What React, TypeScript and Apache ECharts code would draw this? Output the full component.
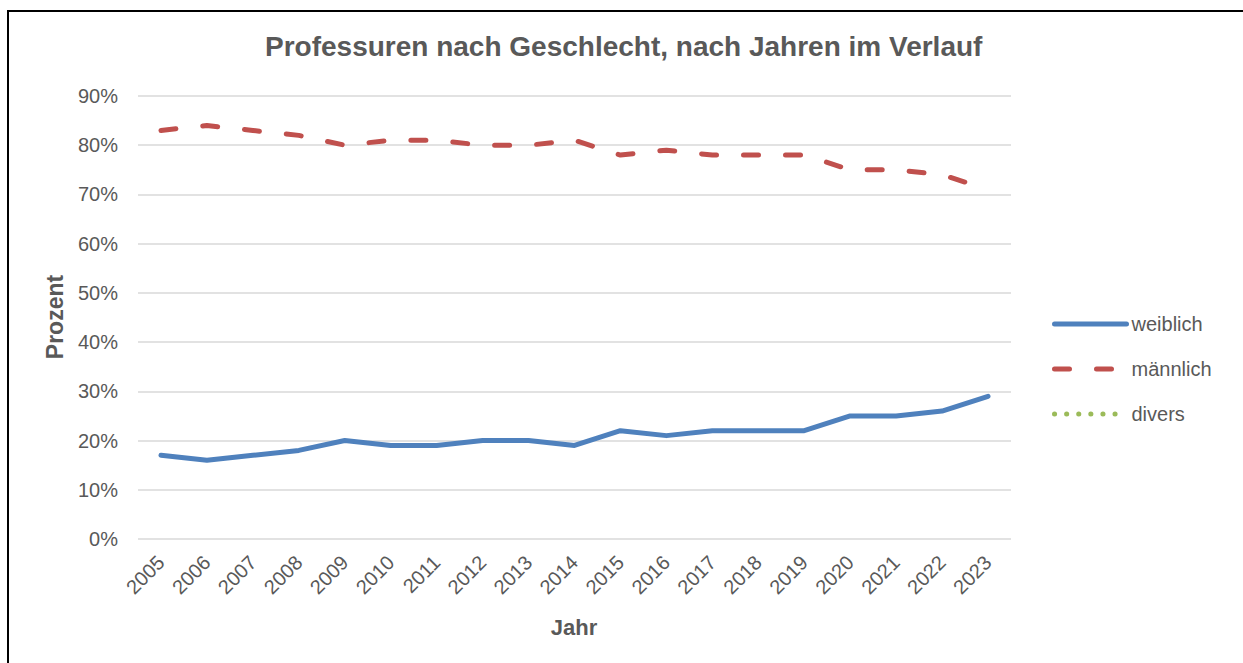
import React, { useEffect, useRef } from "react";
import * as echarts from "echarts";

const years = ["2005","2006","2007","2008","2009","2010","2011","2012","2013","2014","2015","2016","2017","2018","2019","2020","2021","2022","2023"];
const weiblich = [17,16,17,18,20,19,19,20,20,19,22,21,22,22,22,25,25,26,29];
const maennlich = [83,84,83,82,80,81,81,80,80,81,78,79,78,78,78,75,75,74,71];
const divers: (number | null)[] = years.map(() => null);

const FONT = "'Liberation Sans', Arial, sans-serif";
const GREY = "#595959";

export default function App() {
  const ref = useRef<HTMLDivElement>(null);
  useEffect(() => {
    if (!ref.current) return;
    const chart = echarts.init(ref.current, null, { renderer: "svg" });
    chart.setOption({
      animation: false,
      title: {
        text: "Professuren nach Geschlecht, nach Jahren im Verlauf",
        left: 260,
        top: 27,
        textStyle: { fontFamily: FONT, fontSize: 28, fontWeight: "bold", color: GREY },
      },
      grid: { left: 138, right: 232, top: 96, bottom: 124 },
      legend: {
        orient: "vertical",
        left: 1047,
        top: 309,
        itemWidth: 72,
        itemHeight: 14,
        itemGap: 25,
        itemStyle: { opacity: 0 },
        lineStyle: { width: 5, cap: "round" },
        textStyle: { fontFamily: FONT, fontSize: 20, color: GREY },
        data: ["weiblich", "männlich", "divers"],
      },
      xAxis: {
        type: "category",
        data: years,
        boundaryGap: true,
        axisLine: { show: false },
        axisTick: { show: false },
        axisLabel: { rotate: 45, margin: 20, fontFamily: FONT, fontSize: 20, color: GREY, interval: 0 },
      },
      yAxis: {
        type: "value",
        min: 0,
        max: 90,
        interval: 10,
        axisLabel: { formatter: "{value}%", margin: 20, fontFamily: FONT, fontSize: 20, color: GREY },
        splitLine: { lineStyle: { color: "#D9D9D9", width: 1.5 } },
        axisLine: { show: false },
        axisTick: { show: false },
      },
      graphic: [
        {
          type: "text",
          x: 574,
          y: 627,
          style: { text: "Jahr", fontFamily: FONT, fontSize: 22, fontWeight: "bold", fill: GREY, align: "center", verticalAlign: "middle" },
        },
        {
          type: "text",
          x: 55,
          y: 317,
          rotation: Math.PI / 2,
          style: { text: "Prozent", fontFamily: FONT, fontSize: 23, fontWeight: "bold", fill: GREY, align: "center", verticalAlign: "middle" },
        },
      ],
      series: [
        {
          name: "weiblich",
          type: "line",
          data: weiblich,
          symbol: "none",
          lineStyle: { color: "#4F81BD", width: 5, cap: "round", join: "round" },
          itemStyle: { color: "#4F81BD" },
        },
        {
          name: "männlich",
          type: "line",
          data: maennlich,
          symbol: "none",
          lineStyle: { color: "#C0504D", width: 5, type: [15, 27], cap: "round", join: "round" },
          itemStyle: { color: "#C0504D" },
        },
        {
          name: "divers",
          type: "line",
          data: divers,
          symbol: "none",
          lineStyle: { color: "#9BBB59", width: 5, type: [0.1, 12], cap: "round" },
          itemStyle: { color: "#9BBB59" },
        },
      ],
    });
    return () => chart.dispose();
  }, []);
  return (
    <div style={{ position: "absolute", left: 0, top: 0, width: 1243, height: 663, overflow: "hidden", background: "#fff" }}>
      <div ref={ref} style={{ position: "absolute", left: 0, top: 0, width: 1243, height: 663 }} />
      <div style={{ position: "absolute", left: 7, top: 9.5, width: 1400, height: 900, borderLeft: "2px solid #000", borderTop: "2px solid #000", pointerEvents: "none" }} />
    </div>
  );
}
